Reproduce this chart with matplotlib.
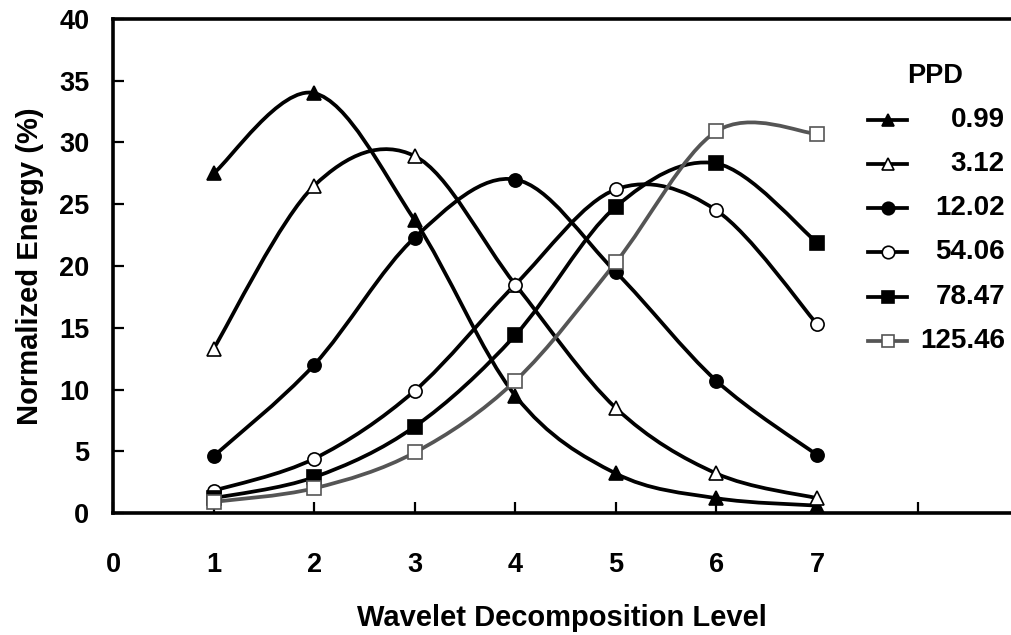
import numpy as np
import matplotlib
matplotlib.use("Agg")
import matplotlib.pyplot as plt
from matplotlib.path import Path
from matplotlib.patches import PathPatch
from matplotlib.lines import Line2D

plt.rcParams['font.family'] = ['Liberation Sans', 'DejaVu Sans']
plt.rcParams['font.weight'] = 'bold'

levels = [1, 2, 3, 4, 5, 6, 7]
ppd_labels = ['0.99', '3.12', '12.02', '54.06', '78.47', '125.46']
e_099 = [27.5, 34.0, 23.7, 9.5, 3.2, 1.2, 0.6]
e_312 = [13.3, 26.5, 28.9, 18.5, 8.5, 3.2, 1.2]
e_1202 = [4.6, 12.0, 22.3, 27.0, 19.5, 10.7, 4.7]
e_5406 = [1.8, 4.4, 9.9, 18.5, 26.2, 24.5, 15.3]
e_7847 = [1.2, 2.9, 7.0, 14.4, 24.8, 28.3, 21.9]
e_12546 = [0.9, 2.0, 4.9, 10.7, 20.3, 30.9, 30.7]
series = [e_099, e_312, e_1202, e_5406, e_7847, e_12546]

markers = ['^', '^', 'o', 'o', 's', 's']
filled = [True, False, True, False, True, False]
colors = ['black', 'black', 'black', 'black', 'black', '#555555']

FS = 19.5
LFS = 21


def smooth_path(x, y):
    """Excel-like smoothed line: cubic bezier through the points."""
    p = np.column_stack([x, y]).astype(float)
    ext = np.vstack([p[0], p, p[-1]])
    verts = [p[0]]
    codes = [Path.MOVETO]
    for i in range(len(p) - 1):
        c1 = ext[i + 1] + (ext[i + 2] - ext[i]) / 6.0
        c2 = ext[i + 2] - (ext[i + 3] - ext[i + 1]) / 6.0
        verts += [c1, c2, p[i + 1]]
        codes += [Path.CURVE4] * 3
    return Path(verts, codes)


fig = plt.figure(figsize=(10.12, 6.35), dpi=100)
ax = fig.add_axes([0.1117, 0.1921, 0.8864, 0.778])

for vals, m, f, c in zip(series, markers, filled, colors):
    ax.add_patch(PathPatch(smooth_path(levels, vals), fill=False,
                           edgecolor=c, lw=2.7, capstyle='round',
                           joinstyle='round', zorder=2))
    ax.plot(levels, vals, linestyle='none', marker=m, ms=9.5,
            mfc=c if f else 'white', mec=c, mew=1.2, zorder=3)

ax.set_xlim(0, 8.92)
ax.set_ylim(0, 40)
ax.set_xticks(range(0, 9))
ax.set_xticklabels([str(i) for i in range(8)] + [''])
ax.set_yticks(range(0, 45, 5))
ax.tick_params(axis='both', direction='in', length=8, width=1.6,
               labelsize=FS)
ax.tick_params(axis='x', pad=28)
ax.tick_params(axis='y', pad=17)
for s in ['left', 'bottom', 'top']:
    ax.spines[s].set_linewidth(2.6)
ax.spines['right'].set_visible(False)

ax.set_xlabel('Wavelet Decomposition Level', fontsize=LFS, fontweight='bold',
              labelpad=19)
ax.set_ylabel('Normalized Energy (%)', fontsize=LFS, fontweight='bold',
              labelpad=11)

# legend drawn by hand so labels can be right aligned
fig.text(0.924, 0.880, 'PPD', fontsize=FS, fontweight='bold',
         ha='center', va='center')
y0 = 0.811
for k, (lab, m, f, c) in enumerate(zip(ppd_labels, markers, filled, colors)):
    y = y0 - k * 0.0695
    fig.add_artist(Line2D([0.858, 0.877, 0.896], [y, y, y], transform=fig.transFigure,
                          color=c, lw=2.7, marker=m, markevery=[1], ms=9,
                          mfc=c if f else 'white', mec=c, mew=1.2))
    fig.text(0.993, y, lab, fontsize=FS + 0.5, fontweight='bold',
             ha='right', va='center')

fig.savefig('out.png', dpi=100)
